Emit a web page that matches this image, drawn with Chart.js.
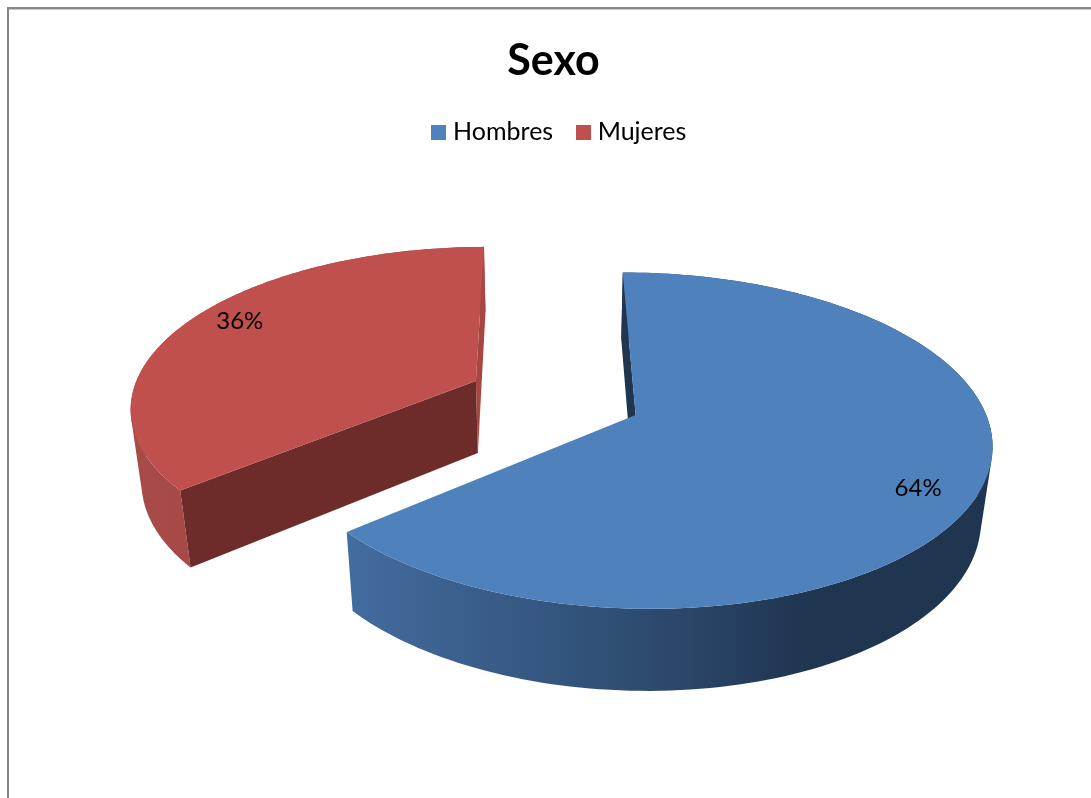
<!DOCTYPE html>
<html>
<head>
<meta charset="utf-8">
<title>Sexo</title>
<script src="https://cdn.jsdelivr.net/npm/chart.js@4/dist/chart.umd.min.js"></script>
<style>
  html, body { margin: 0; padding: 0; background: #fff; overflow: hidden; }
  canvas { display: block; }
</style>
</head>
<body>
<canvas id="graficoSexo" width="1091" height="798"></canvas>
<script>
const categorias = ["Hombres", "Mujeres"];
const valores = [64, 36];
const coresTopo = ["#4f81bd", "#c0504d"];
const coresCorteInicio = ["#1f3550", "#6d2c2a"];
const coresCorteFim = [null, "#a84643"];
const coresParede = [
  [[0, "#436c9f"], [0.45, "#2e4c71"], [0.72, "#1f3550"], [1, "#1f3550"]],
  [[0, "#a84b48"], [1, "#a34543"]]
];
// percent labels: radius and angle nudge inside each slice
const rotuloRaio = [0.85, 0.855];
const rotuloGiro = [0.083, 0.065];

// tilted pie: unit disc + height z (0..1) to canvas pixels
const vista = { dx: 1, rx: 345, ry: 159, k: 0.15, mx: 0.026, my: 0.02, prof: 74.3 };

function projeta(el, u, v, z) {
  const w = 1 - vista.k * v;
  return {
    x: el.x + vista.dx + vista.rx * u / (w + vista.mx * z),
    y: el.y + (vista.ry * v + vista.prof * z) / (w + vista.my * z)
  };
}

// point at chart angle a on a slice, r in radius units
function pontoFatia(el, a, r, z) {
  const meio = (el.startAngle + el.endAngle) / 2;
  const d = el.options.offset / el.outerRadius;
  return projeta(el, r * Math.cos(a) + d * Math.cos(meio), r * Math.sin(a) + d * Math.sin(meio), z);
}

function subcaminho(ctx, pts) {
  pts.forEach((p, i) => i ? ctx.lineTo(p.x, p.y) : ctx.moveTo(p.x, p.y));
  ctx.closePath();
}

function caminho(ctx, pts) {
  ctx.beginPath();
  subcaminho(ctx, pts);
}

function areaQuad(q) {
  let s = 0;
  q.forEach((p, i) => {
    const n = q[(i + 1) % q.length];
    s += p.x * n.y - n.x * p.y;
  });
  return s;
}

function amostraArco(el, z) {
  const pts = [];
  const n = 160;
  for (let i = 0; i <= n; i++) {
    pts.push(pontoFatia(el, el.startAngle + (el.endAngle - el.startAngle) * i / n, 1, z));
  }
  return pts;
}

function desenhaFatia(ctx, el, i) {
  const topo = amostraArco(el, 0);
  const base = amostraArco(el, 1);

  // outer wall: quads all wound the same way, so the fold at the silhouette stays filled
  const xs = topo.map(p => p.x);
  const grad = ctx.createLinearGradient(Math.min(...xs), 0, Math.max(...xs), 0);
  coresParede[i].forEach(s => grad.addColorStop(s[0], s[1]));
  ctx.beginPath();
  for (let j = 0; j < topo.length - 1; j++) {
    const q = [topo[j], topo[j + 1], base[j + 1], base[j]];
    subcaminho(ctx, areaQuad(q) < 0 ? q.reverse() : q);
  }
  ctx.fillStyle = grad;
  ctx.fill();

  // cut faces, the blue slice only shows the one at its start
  const c0 = pontoFatia(el, 0, 0, 0);
  const c1 = pontoFatia(el, 0, 0, 1);
  if (coresCorteFim[i]) {
    caminho(ctx, [c0, topo[topo.length - 1], base[base.length - 1], c1]);
    ctx.fillStyle = coresCorteFim[i];
    ctx.fill();
  }
  caminho(ctx, [c0, topo[0], base[0], c1]);
  ctx.fillStyle = coresCorteInicio[i];
  ctx.fill();

  // top face
  caminho(ctx, [c0].concat(topo));
  ctx.fillStyle = coresTopo[i];
  ctx.fill();
}

const pizza3d = {
  id: "pizza3d",
  afterLayout(chart) {
    // legend sits a little right of the title
    chart.legend.left += 16;
  },
  beforeDraw(chart) {
    const { ctx } = chart;
    ctx.save();
    ctx.fillStyle = "#868686";
    ctx.fillRect(7, 7, 1084, 2);
    ctx.fillRect(7, 7, 2, 791);
    ctx.fillStyle = "#c8c8c8";
    ctx.fillRect(9, 9, 1082, 1);
    ctx.restore();
  },
  beforeDatasetDraw(chart, args) {
    const { ctx } = chart;
    args.meta.data.forEach((el, i) => desenhaFatia(ctx, el, i));

    const total = valores.reduce((a, b) => a + b, 0);
    ctx.save();
    ctx.fillStyle = "#000";
    ctx.font = "24px Lato";
    ctx.textAlign = "center";
    ctx.textBaseline = "middle";
    args.meta.data.forEach((el, i) => {
      const meio = (el.startAngle + el.endAngle) / 2 + rotuloGiro[i];
      const p = pontoFatia(el, meio, rotuloRaio[i], 0);
      ctx.fillText(Math.round(valores[i] / total * 100) + "%", p.x, p.y);
    });
    ctx.restore();
    return false;
  }
};

// square legend swatch, wider than the box the legend reserves for it
function amostra(cor) {
  const c = document.createElement("canvas");
  c.width = 15;
  c.height = 15;
  const g = c.getContext("2d");
  g.fillStyle = cor;
  g.fillRect(0, 0, 15, 15);
  return c;
}

new Chart(document.getElementById("graficoSexo"), {
  type: "pie",
  data: {
    labels: categorias,
    datasets: [{
      data: valores,
      backgroundColor: coresTopo,
      borderWidth: 0,
      offset: 55,
      rotation: -0.4
    }]
  },
  options: {
    responsive: false,
    animation: false,
    layout: { padding: { left: 16, bottom: 157 } },
    plugins: {
      title: {
        display: true,
        text: "Sexo",
        color: "#000",
        font: { family: "Lato", size: 43, weight: "bold" },
        padding: { top: 35, bottom: 5 }
      },
      legend: {
        position: "top",
        labels: {
          color: "#000",
          font: { family: "Lato", size: 25 },
          usePointStyle: true,
          pointStyleWidth: 4,
          padding: 28,
          generateLabels(chart) {
            return Chart.overrides.pie.plugins.legend.labels.generateLabels(chart)
              .map((item, i) => Object.assign(item, { pointStyle: amostra(coresTopo[i]) }));
          }
        }
      },
      tooltip: { enabled: false }
    }
  },
  plugins: [pizza3d]
});
</script>
</body>
</html>
